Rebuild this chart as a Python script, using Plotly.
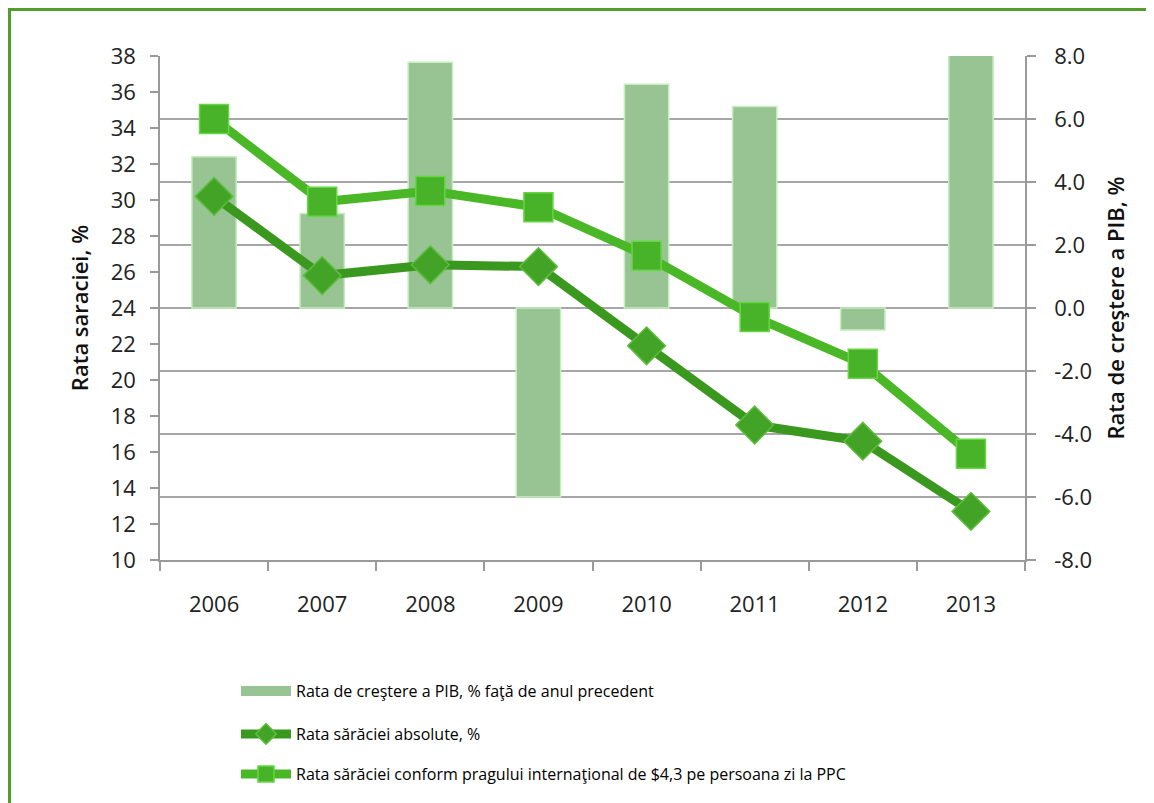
import plotly.graph_objects as go

years = ["2006", "2007", "2008", "2009", "2010", "2011", "2012", "2013"]
gdp_growth = [4.8, 3.0, 7.8, -6.0, 7.1, 6.4, -0.7, 8.9]
poverty_abs = [30.2, 25.8, 26.4, 26.3, 21.9, 17.5, 16.6, 12.7]
poverty_intl = [34.5, 29.9, 30.5, 29.6, 26.9, 23.5, 20.9, 15.9]

left_ticks = list(range(10, 39, 2))
right_ticks = [-8, -6, -4, -2, 0, 2, 4, 6, 8]
right_tick_labels = ["-8.0", "-6.0", "-4.0", "-2.0", "0.0", "2.0", "4.0", "6.0", "8.0"]

name_gdp = "Rata de creştere a PIB, % faţă de anul precedent"
name_abs = "Rata sărăciei absolute, %"
name_intl = "Rata sărăciei conform pragului internaţional de $4,3 pe persoana zi la PPC"

FONT = "Open Sans"
AX = "#9a9a9a"
BAR_COLOR = "rgb(152,196,147)"

fig = go.Figure()
fig.add_trace(go.Bar(
    x=years, y=gdp_growth, name=name_gdp, yaxis="y", width=0.41,
    marker=dict(color=BAR_COLOR, line=dict(color="rgb(196,238,188)", width=1.5)),
    showlegend=False,
))
# legend entry for the bars (wide flat swatch as in the original legend)
fig.add_trace(go.Scatter(
    x=[None], y=[None], name=name_gdp, yaxis="y", mode="lines",
    line=dict(color=BAR_COLOR, width=11), legend="legend", hoverinfo="skip",
))
fig.add_trace(go.Scatter(
    x=years, y=poverty_abs, name=name_abs, yaxis="y2", mode="lines+markers",
    line=dict(color="rgb(58,152,30)", width=9),
    marker=dict(symbol="diamond", size=29, color="rgb(66,163,38)",
                line=dict(color="rgb(92,190,60)", width=1.5)),
    legend="legend2",
))
fig.add_trace(go.Scatter(
    x=years, y=poverty_intl, name=name_intl, yaxis="y2", mode="lines+markers",
    line=dict(color="rgb(74,183,38)", width=9),
    marker=dict(symbol="square", size=29, color="rgb(72,178,40)",
                line=dict(color="rgb(100,215,65)", width=1.5)),
    legend="legend3",
))

OFF = 8  # default page body margin
W, H = 1154 - OFF, 803 - OFF
L, T = 160 - OFF, 56 - OFF
R = W - (1025 - OFF)
B = H - (560 - OFF)
pw, ph = W - L - R, H - T - B

def px(x):
    return (x - OFF - L) / pw

def py(y):
    return (H - B - (y - OFF)) / ph

leg_common = dict(font=dict(family=FONT, size=16, color="#000000"), bgcolor="rgba(0,0,0,0)",
                  xanchor="left", yanchor="middle", itemwidth=50)

fig.update_layout(
    width=W, height=H, showlegend=True,
    margin=dict(l=L, r=R, t=T, b=B, autoexpand=False),
    paper_bgcolor="white", plot_bgcolor="white",
    font=dict(family=FONT, size=22, color="#222222"),
    xaxis=dict(type="category", range=[-0.5, 7.5], showline=True, linecolor=AX, linewidth=1.5,
               ticks="outside", tickson="boundaries", ticklen=9, tickcolor=AX, tickwidth=1.5,
               showgrid=False, tickfont=dict(size=22, color="#222222"), ticklabelstandoff=24),
    yaxis=dict(side="right", range=[-8, 8], tickvals=right_ticks, ticktext=right_tick_labels,
               showgrid=True, gridcolor="#a6a6a6", gridwidth=1.5, zeroline=False,
               showline=True, linecolor=AX, linewidth=1.5, ticks="outside", ticklen=9,
               tickcolor=AX, tickwidth=1.5, ticklabelstandoff=14,
               tickfont=dict(size=22, color="#222222"),
               title=dict(text="Rata de creştere a PIB, %", font=dict(size=22, color="#111111", weight=600),
                          standoff=17)),
    yaxis2=dict(side="left", overlaying="y", range=[10, 38], tickvals=left_ticks,
                showgrid=False, zeroline=False, showline=True, linecolor=AX, linewidth=1.5,
                ticks="outside", ticklen=8, tickcolor=AX, tickwidth=1.5, ticklabelstandoff=10,
                tickfont=dict(size=22, color="#222222"),
                title=dict(text="Rata saraciei, %", font=dict(size=22, color="#111111", weight=600),
                           standoff=16)),
    legend=dict(**leg_common, x=px(236), y=py(691)),
    legend2=dict(**leg_common, x=px(236), y=py(734)),
    legend3=dict(**leg_common, x=px(236), y=py(774)),
    shapes=[dict(type="rect", xref="paper", yref="paper", x0=px(9.5), x1=px(1151.5), y0=py(830),
                 y1=py(9.5), line=dict(color="rgb(80,158,46)", width=3),
                 fillcolor="rgba(0,0,0,0)", layer="below")],
)

fig.write_html("out.html")
